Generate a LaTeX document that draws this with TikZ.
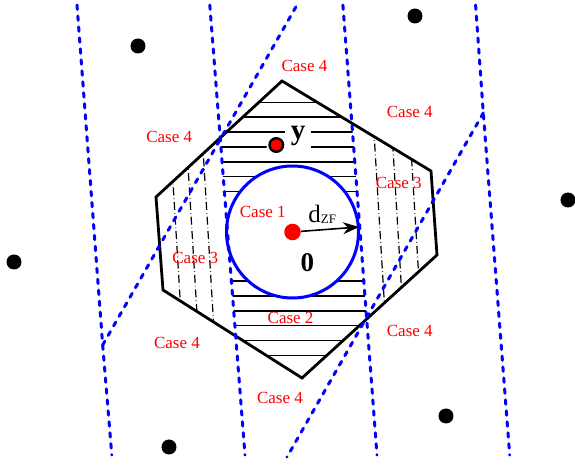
\documentclass[tikz,border=0pt]{standalone}
\usepackage{fontspec}
\setmainfont{Liberation Serif}
\usetikzlibrary{arrows.meta}

\begin{document}
\begin{tikzpicture}[x=0.5pt,y=-0.5pt,
  casetxt/.style={text=red,font=\fontsize{8.5}{10}\selectfont,inner sep=0pt},
  bound/.style={blue,line width=1.5pt,line cap=round,dash pattern=on 2.2pt off 3.3pt},
  hatch/.style={black,line width=0.7pt},
  dashdot/.style={black,line width=0.6pt,dash pattern=on 4pt off 1.5pt on 0.3pt off 1.5pt},
  lattice/.style={circle,fill=black,inner sep=0pt,minimum size=7.5pt}]
  \useasboundingbox (0,0) rectangle (575,466);
  % Hexagon corners
  \coordinate (h1) at (282,81);
  \coordinate (h2) at (431,171);
  \coordinate (h3) at (437,255);
  \coordinate (h4) at (302,378);
  \coordinate (h5) at (163,290);
  \coordinate (h6) at (156,197);
  % Region boundaries
  \coordinate (a1) at (77,5);
  \coordinate (ab) at (102.7,345);
  \coordinate (a2) at (111.8,455);
  \coordinate (b1) at (297,5);
  \coordinate (c1) at (209.8,5);
  \coordinate (c2) at (245,455);
  \coordinate (d1) at (342.9,5);
  \coordinate (d2) at (377,455);
  \coordinate (e1) at (475.6,5);
  \coordinate (ef) at (483.3,113);
  \coordinate (e2) at (509.7,455);
  \coordinate (f2) at (287,457);
  \coordinate (o) at (292.5,232);
  % Case 2 hatch (middle band)
  \begin{scope}
    \clip (h1) -- (h2) -- (h3) -- (h4) -- (h5) -- (h6) -- cycle;
    \clip (c1) -- (d1) -- (d2) -- (c2) -- cycle;
    \foreach \k in {0,...,6,12,13,...,17}
      \draw[hatch] (150,102.3+14.9*\k) -- (450,102.3+14.9*\k);
  \end{scope}
  % Case 3 hatch (left side)
  \begin{scope}
    \clip (h1) -- (h2) -- (h3) -- (h4) -- (h5) -- (h6) -- cycle;
    \clip (0,5) -- (c1) -- (c2) -- (0,455) -- cycle;
    \foreach \x in {176,192,208}
      \draw[dashdot] (\x-8,100) -- (\x+6,330);
  \end{scope}
  % Case 3 hatch (right side)
  \begin{scope}
    \clip (h1) -- (h2) -- (h3) -- (h4) -- (h5) -- (h6) -- cycle;
    \clip (d1) -- (575,5) -- (575,455) -- (d2) -- cycle;
    \foreach \x in {380,398,416}
      \draw[dashdot] (\x-8,100) -- (\x+6,330);
  \end{scope}
  % Sphere of radius d_ZF
  \fill[white] (o) circle (33pt);
  \draw[blue,line width=1.5pt] (o) circle (33pt);
  % Hexagon
  \draw[line width=1.4pt,line join=miter] (h1) -- (h2) -- (h3) -- (h4) -- (h5) -- (h6) -- cycle;
  % Decision boundaries
  \draw[bound] (a1) -- (ab) -- (a2);
  \draw[bound] (ab) -- (b1);
  \draw[bound] (c1) -- (c2);
  \draw[bound] (d1) -- (d2);
  \draw[bound] (e1) -- (ef) -- (e2);
  \draw[bound] (ef) -- (f2);
  % Lattice points
  \foreach \x/\y/\n in {138/46/p1,415/16/p2,568/200/p3,14/262/p4,446/416/p5,169/447/p6}
    \node[lattice] (\n) at (\x,\y) {};
  % Origin and received point
  \node[circle,fill=red,inner sep=0pt,minimum size=8.3pt] (zero) at (o) {};
  \fill[white] (276.3,145) circle (5pt);
  \node[circle,fill=red,draw=black,line width=1.2pt,inner sep=0pt,minimum size=6.8pt] (rx) at (276.3,145) {};
  \coordinate (tip) at (359,227);
  \draw[-{Stealth[length=8pt,width=6pt]},line width=0.8pt] (zero) -- (tip);
  % Labels
  \node[anchor=base west,inner sep=0pt,font=\fontsize{12.5}{14}\selectfont] (dzf) at (308,222)
    {d\raisebox{-0.7pt}{\fontsize{6.5}{7}\selectfont ZF}};
  \node[anchor=base,fill=white,inner ysep=1.5pt,inner xsep=2.8pt,font=\bfseries\fontsize{14.5}{16}\selectfont] (ylab) at (298,140) {y};
  \node[inner sep=0pt,font=\bfseries\fontsize{13.5}{15}\selectfont] (zlab) at (307.5,263) {0};
  \node[casetxt] (case1) at (262.8,211.7) {Case 1};
  \node[casetxt] (case2) at (290.6,318.3) {Case 2};
  \node[casetxt] (case3l) at (195.3,258.3) {Case 3};
  \node[casetxt] (case3r) at (398.8,183.3) {Case 3};
  \node[casetxt] (case4t) at (304.5,66.3) {Case 4};
  \node[casetxt] (case4ur) at (409.8,112) {Case 4};
  \node[casetxt] (case4ul) at (169.2,137) {Case 4};
  \node[casetxt] (case4lr) at (409.8,331) {Case 4};
  \node[casetxt] (case4ll) at (177,343) {Case 4};
  \node[casetxt] (case4b) at (280,398.3) {Case 4};
\end{tikzpicture}
\end{document}
